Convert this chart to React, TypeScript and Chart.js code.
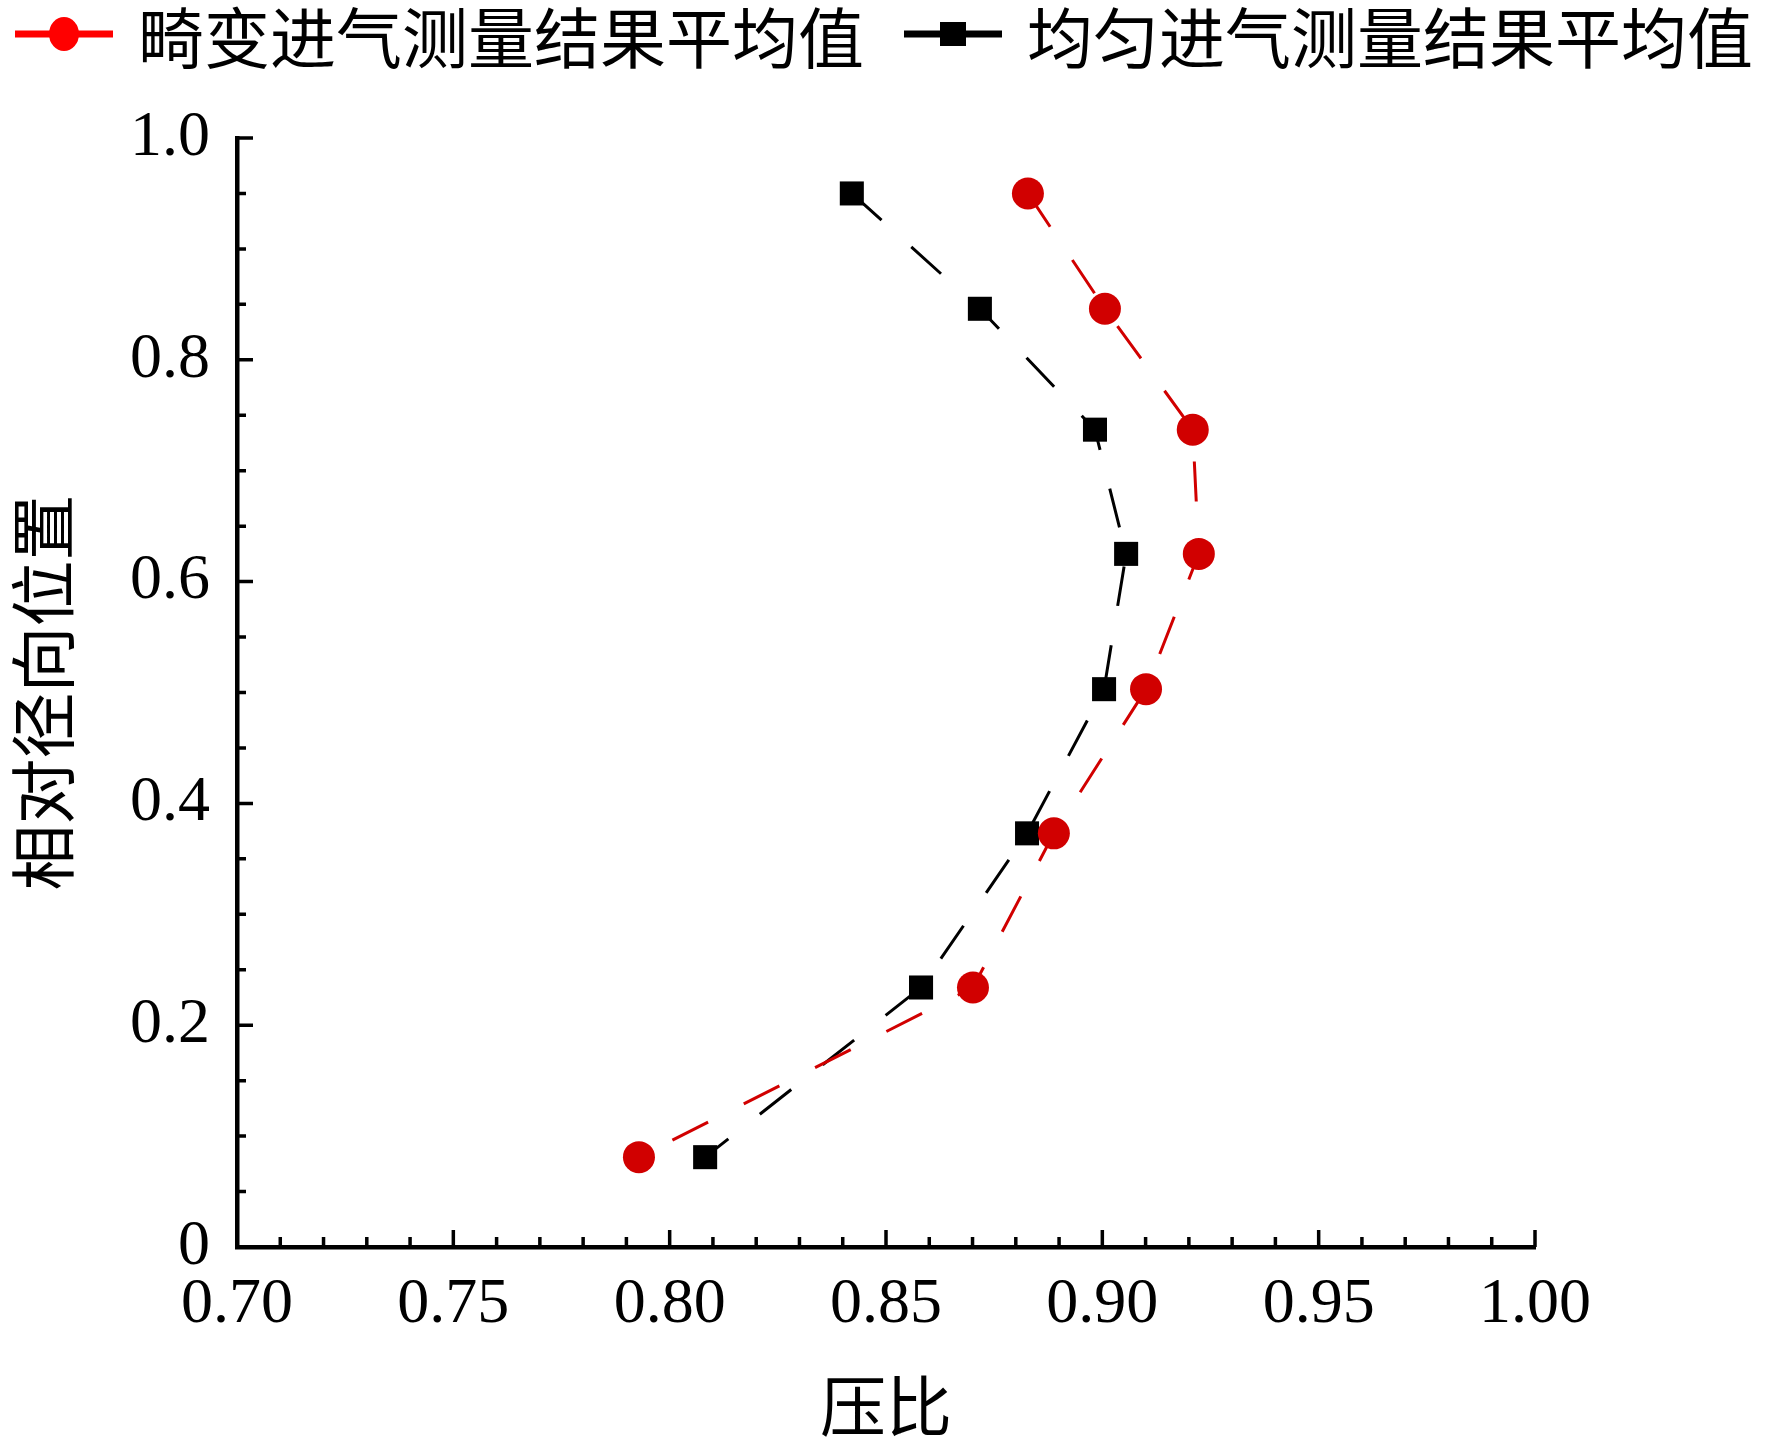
import { Chart, ChartConfiguration, registerables } from "chart.js";
import { useEffect, useRef } from "react";

Chart.register(...registerables);

// 相对径向位置 (y) 与压比 (x)
const radialPositions = [0.95, 0.846, 0.737, 0.625, 0.503, 0.373, 0.234, 0.081];
const distortedPressureRatio = [0.8828, 0.9006, 0.9209, 0.9223, 0.9101, 0.8888, 0.8701, 0.7929];
const uniformPressureRatio = [0.8421, 0.8717, 0.8983, 0.9055, 0.9004, 0.8826, 0.8581, 0.8082];

const seriesLabels = ["畸变进气测量结果平均值", "均匀进气测量结果平均值"];
const xTitle = "压比";
const yTitle = "相对径向位置";

const W = 1772;
const H = 1451;
const serif = '"Liberation Serif", "Times New Roman", "Noto Sans CJK SC", serif';

// 向内的主/次刻度
const innerTicks = {
    id: "innerTicks",
    afterDraw(chart: any) {
        const { ctx, scales } = chart;
        const xs = scales.x;
        const ys = scales.y;
        ctx.save();
        ctx.strokeStyle = "#000";
        ctx.lineWidth = 3.5;
        ctx.beginPath();
        const nx = Math.round((xs.max - xs.min) / 0.01);
        for (let i = 0; i <= nx; i++) {
            const px = xs.getPixelForValue(xs.min + i * 0.01);
            const len = i % 5 === 0 ? 17 : 10;
            ctx.moveTo(px, ys.bottom);
            ctx.lineTo(px, ys.bottom - len);
        }
        const ny = Math.round((ys.max - ys.min) / 0.05);
        for (let i = 0; i <= ny; i++) {
            const py = ys.getPixelForValue(ys.min + i * 0.05);
            const len = i % 4 === 0 ? 16 : 9;
            ctx.moveTo(xs.left, py);
            ctx.lineTo(xs.left + len, py);
        }
        ctx.stroke();
        ctx.restore();
    },
};

// 顶部图例：线段 + 标记 + 文字
const topLegend = {
    id: "topLegend",
    afterDraw(chart: any) {
        const { ctx } = chart;
        const colors = ["#ff0000", "#000000"];
        ctx.save();
        ctx.font = '66px "Noto Sans CJK SC", ' + serif;
        ctx.textBaseline = "middle";
        ctx.textAlign = "left";
        let x = 15;
        const y = 34;
        chart.data.datasets.forEach((ds: any, i: number) => {
            ctx.strokeStyle = colors[i];
            ctx.fillStyle = colors[i];
            ctx.lineWidth = 7;
            ctx.beginPath();
            ctx.moveTo(x, y);
            ctx.lineTo(x + 98, y);
            ctx.stroke();
            const mx = x + 49;
            ctx.beginPath();
            if (ds.pointStyle === "circle") {
                ctx.ellipse(mx, y, 15, 17, 0, 0, Math.PI * 2);
            } else {
                ctx.rect(mx - 13, y - 12, 26, 24);
            }
            ctx.fill();
            ctx.fillStyle = "#000";
            ctx.fillText(ds.label, x + 123, y + 4);
            x += 123 + ctx.measureText(ds.label).width + 40;
        });
        ctx.restore();
    },
};

export default function App() {
    const canvasRef = useRef<HTMLCanvasElement | null>(null);
    const chartRef = useRef<Chart | null>(null);

    useEffect(() => {
        document.body.style.margin = "0";
        if (!canvasRef.current) return;

        const config: ChartConfiguration<"line"> = {
            type: "line",
            data: {
                datasets: [
                    {
                        label: seriesLabels[0],
                        data: distortedPressureRatio.map((v, i) => ({ x: v, y: radialPositions[i] })),
                        borderColor: "#d10000",
                        backgroundColor: "#d10000",
                        borderWidth: 3,
                        borderDash: [40, 40],
                        pointStyle: "circle",
                        pointRadius: 16,
                        pointBorderWidth: 0,
                        tension: 0,
                    },
                    {
                        label: seriesLabels[1],
                        data: uniformPressureRatio.map((v, i) => ({ x: v, y: radialPositions[i] })),
                        borderColor: "#000000",
                        backgroundColor: "#000000",
                        borderWidth: 3,
                        borderDash: [40, 40],
                        pointStyle: "rect",
                        pointRadius: 17,
                        pointBorderWidth: 0,
                        tension: 0,
                    },
                ],
            },
            options: {
                responsive: false,
                animation: false,
                devicePixelRatio: 1,
                layout: { padding: { top: 138, right: 237, bottom: 0, left: 0 } },
                plugins: {
                    legend: { display: false },
                    tooltip: { enabled: false },
                },
                scales: {
                    x: {
                        type: "linear",
                        min: 0.7,
                        max: 1.0,
                        grid: { display: false, drawTicks: false },
                        border: { display: true, color: "#000", width: 4.5 },
                        ticks: {
                            stepSize: 0.05,
                            padding: 20,
                            color: "#000",
                            font: { family: serif, size: 64 },
                            callback: (v: any) => Number(v).toFixed(2),
                        },
                        title: {
                            display: true,
                            text: xTitle,
                            color: "#000",
                            font: { family: serif, size: 66, lineHeight: 1 },
                            padding: { top: 0, bottom: 4 },
                        },
                        afterFit(scale: any) {
                            scale.height = 204;
                        },
                    },
                    y: {
                        type: "linear",
                        min: 0,
                        max: 1.0,
                        grid: { display: false, drawTicks: false },
                        border: { display: true, color: "#000", width: 4.5 },
                        ticks: {
                            stepSize: 0.2,
                            padding: 27,
                            color: "#000",
                            font: { family: serif, size: 64 },
                            callback: (v: any) => (Number(v) === 0 ? "0" : Number(v).toFixed(1)),
                        },
                        title: {
                            display: true,
                            text: yTitle,
                            color: "#000",
                            font: { family: serif, size: 66, lineHeight: 1 },
                            padding: { top: 18, bottom: 0 },
                        },
                        afterFit(scale: any) {
                            scale.width = 237;
                        },
                    },
                },
            },
            plugins: [innerTicks, topLegend],
        };

        chartRef.current = new Chart(canvasRef.current, config);
        return () => {
            chartRef.current?.destroy();
            chartRef.current = null;
        };
    }, []);

    return (
        <div style={{ width: W, height: H, background: "#fff" }}>
            <canvas ref={canvasRef} width={W} height={H} style={{ width: W, height: H, display: "block" }}></canvas>
        </div>
    );
}
